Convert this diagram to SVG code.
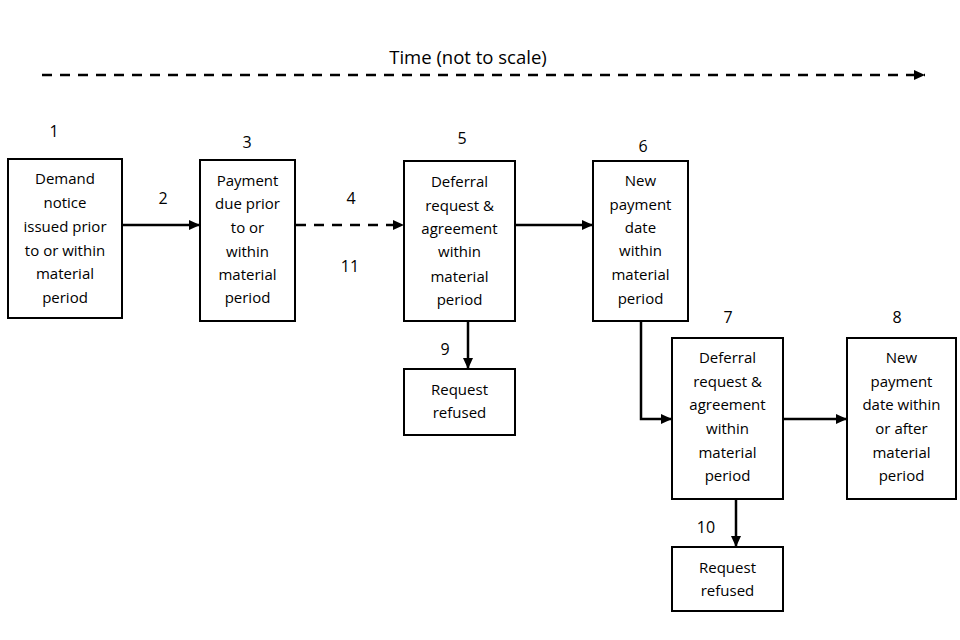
<svg xmlns="http://www.w3.org/2000/svg" width="960" height="640" viewBox="0 0 960 640">
<style>
.box{fill:#fff;stroke:#000;stroke-width:2}
text{font-family:"Open Sans","Noto Sans",sans-serif;font-size:15px;fill:#000;text-anchor:middle;dominant-baseline:central}
text.n{font-size:16px}
.c{fill:none;stroke:#000;stroke-width:2.5}
.d{stroke-dasharray:10 8}
</style>
<defs>
<marker id="ah" markerUnits="userSpaceOnUse" markerWidth="12" markerHeight="12" refX="11" refY="6" orient="auto">
<path d="M0,1 L11,6 L0,11 Z" fill="#000"/>
</marker>
</defs>
<rect width="960" height="640" fill="#fff"/>
<g id="timeline">
<text x="468" y="56" style="font-size:18.5px">Time (not to scale)</text>
<line class="c d" x1="42" y1="75" x2="925" y2="75" marker-end="url(#ah)"/>
</g>
<g id="connectors">
<line class="c" x1="122" y1="225" x2="200" y2="225" marker-end="url(#ah)"/>
<line class="c d" x1="296" y1="225" x2="404" y2="225" marker-end="url(#ah)"/>
<line class="c" x1="515" y1="225" x2="593" y2="225" marker-end="url(#ah)"/>
<line class="c" x1="468" y1="321" x2="468" y2="369" marker-end="url(#ah)"/>
<polyline class="c" points="641,321 641,419 672,419" marker-end="url(#ah)"/>
<line class="c" x1="783" y1="419" x2="847" y2="419" marker-end="url(#ah)"/>
<line class="c" x1="736" y1="499" x2="736" y2="547" marker-end="url(#ah)"/>
<text class="n" x="163" y="198">2</text>
<text class="n" x="351" y="198">4</text>
<text class="n" x="350" y="266">11</text>
<text class="n" x="445" y="349">9</text>
<text class="n" x="706" y="527">10</text>
</g>
<g id="n1">
<text class="n" x="54" y="131">1</text>
<rect class="box" x="8" y="159" width="114" height="159"/>
<text x="65" y="178">Demand</text>
<text x="65" y="202">notice</text>
<text x="65" y="226">issued prior</text>
<text x="65" y="250">to or within</text>
<text x="65" y="273">material</text>
<text x="65" y="297">period</text>
</g>
<g id="n3">
<text class="n" x="247" y="142">3</text>
<rect class="box" x="200" y="160" width="95" height="161"/>
<text x="247.5" y="180">Payment</text>
<text x="247.5" y="203">due prior</text>
<text x="247.5" y="227">to or</text>
<text x="247.5" y="251">within</text>
<text x="247.5" y="274">material</text>
<text x="247.5" y="297">period</text>
</g>
<g id="n5">
<text class="n" x="462" y="138">5</text>
<rect class="box" x="404" y="161" width="111" height="160"/>
<text x="459.5" y="181">Deferral</text>
<text x="459.5" y="205">request &amp;</text>
<text x="459.5" y="228">agreement</text>
<text x="459.5" y="251">within</text>
<text x="459.5" y="276">material</text>
<text x="459.5" y="299">period</text>
</g>
<g id="n6">
<text class="n" x="643" y="146">6</text>
<rect class="box" x="593" y="161" width="95" height="160"/>
<text x="640.5" y="180">New</text>
<text x="640.5" y="204">payment</text>
<text x="640.5" y="227">date</text>
<text x="640.5" y="250">within</text>
<text x="640.5" y="274">material</text>
<text x="640.5" y="298">period</text>
</g>
<g id="n9">
<rect class="box" x="404" y="369" width="111" height="66"/>
<text x="459.5" y="389">Request</text>
<text x="459.5" y="412">refused</text>
</g>
<g id="n7">
<text class="n" x="728" y="317">7</text>
<rect class="box" x="672" y="338" width="111" height="161"/>
<text x="727.5" y="357">Deferral</text>
<text x="727.5" y="381">request &amp;</text>
<text x="727.5" y="404">agreement</text>
<text x="727.5" y="428">within</text>
<text x="727.5" y="452">material</text>
<text x="727.5" y="475">period</text>
</g>
<g id="n8">
<text class="n" x="897" y="317">8</text>
<rect class="box" x="847" y="338" width="109" height="161"/>
<text x="901.5" y="357">New</text>
<text x="901.5" y="381">payment</text>
<text x="901.5" y="404">date within</text>
<text x="901.5" y="428">or after</text>
<text x="901.5" y="452">material</text>
<text x="901.5" y="475">period</text>
</g>
<g id="n10">
<rect class="box" x="672" y="547" width="111" height="64"/>
<text x="727.5" y="567">Request</text>
<text x="727.5" y="590">refused</text>
</g>
</svg>
